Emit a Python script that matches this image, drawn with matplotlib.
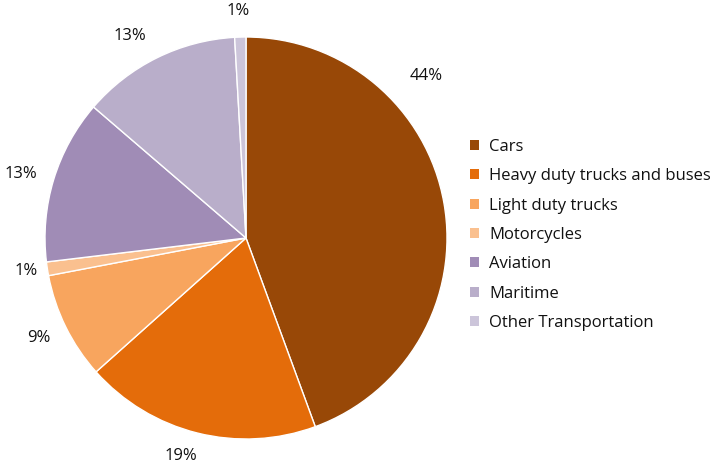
import matplotlib
matplotlib.use("Agg")
import matplotlib.pyplot as plt
from matplotlib.patches import Patch

categories = ["Cars", "Heavy duty trucks and buses", "Light duty trucks",
              "Motorcycles", "Aviation", "Maritime", "Other Transportation"]
shares = [44.4, 19.0, 8.6, 1.1, 13.2, 12.8, 0.9]
pct_labels = ["44%", "19%", "9%", "1%", "13%", "13%", "1%"]
colors = ["#984807", "#E46C0A", "#F8A55E", "#FAC08F", "#A08CB6", "#B9AECA", "#CCC5DA"]

# label positions in pie-radius units (layout)
label_pos = [(0.895, 0.805), (-0.325, -1.085), (-1.03, -0.5), (-1.095, -0.165),
             (-1.12, 0.32), (-0.58, 1.005), (-0.04, 1.13)]

plt.rcParams['font.family'] = ['Open Sans', 'DejaVu Sans']

W, H = 713, 466
fig = plt.figure(figsize=(W / 100, H / 100), dpi=100)
cx, cy, r = 246, 238, 201
ax = fig.add_axes([(cx - r) / W, (H - cy - r) / H, 2 * r / W, 2 * r / H])
wedges, _ = ax.pie(shares, colors=colors, startangle=90, counterclock=False,
                   radius=1.0, wedgeprops=dict(edgecolor="white", linewidth=1.0))
ax.set_xlim(-1, 1)
ax.set_ylim(-1, 1)
ax.set_aspect("equal")
ax.axis("off")

for (x, y), t in zip(label_pos, pct_labels):
    ax.text(x, y, t, ha="center", va="center", fontsize=12, color="#111111",
            clip_on=False)

handles = [Patch(facecolor=c, edgecolor="none") for c in colors]
fig.legend(handles, categories, loc="upper left",
           bbox_to_anchor=(470 / W, 1 - 139 / H), frameon=False,
           fontsize=12, handlelength=0.55, handleheight=0.55, handletextpad=0.6,
           labelspacing=0.80, borderaxespad=0, borderpad=0, labelcolor="#111111")

fig.savefig("out.png", dpi=100)
